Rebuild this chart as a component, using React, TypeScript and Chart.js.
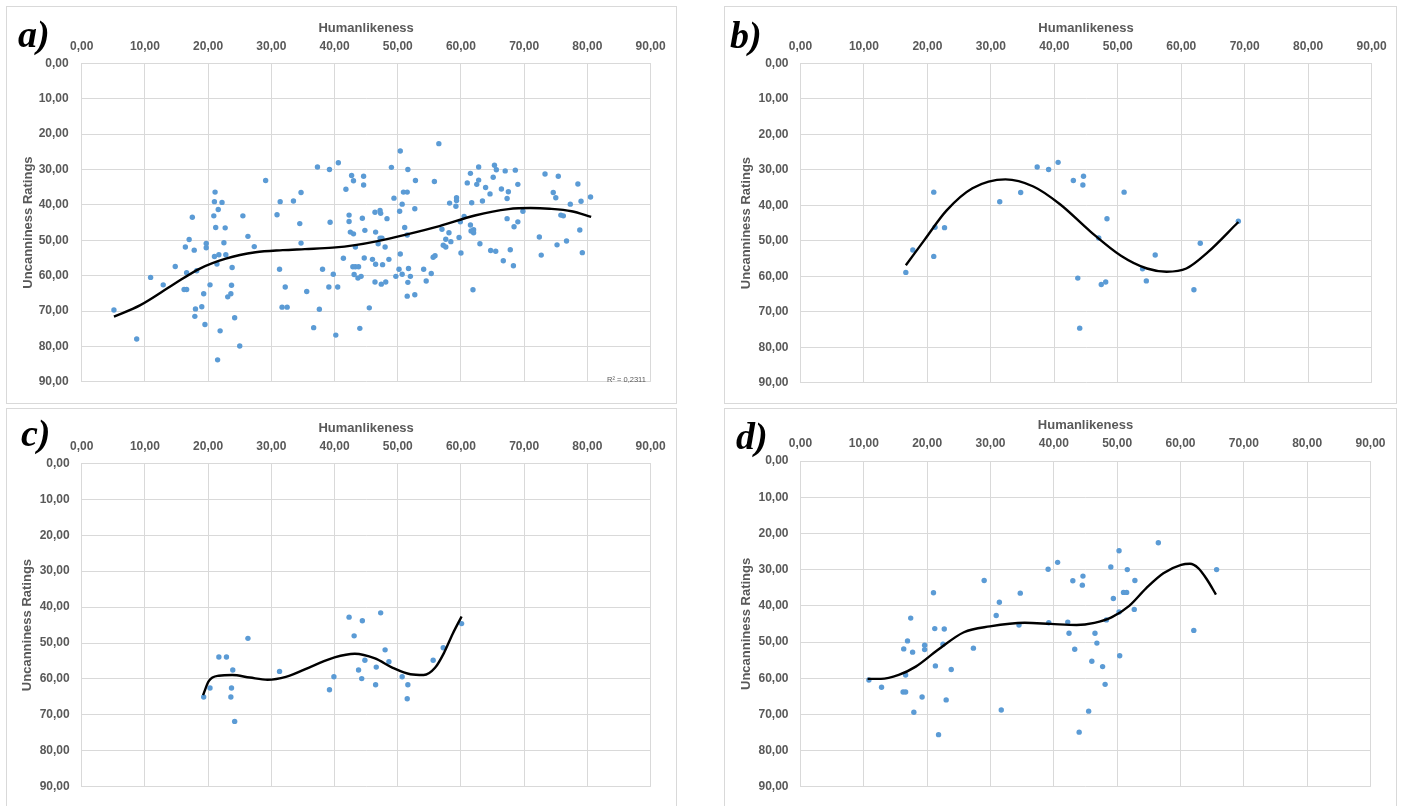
import React, { useEffect, useRef } from "react";
import { Chart, registerables } from "chart.js";

Chart.register(...registerables);

// ---------- axis ticks ----------
const tickValues = [0, 10, 20, 30, 40, 50, 60, 70, 80, 90];
const tickLabels = ["0,00", "10,00", "20,00", "30,00", "40,00", "50,00", "60,00", "70,00", "80,00", "90,00"];
const xAxisTitle = "Humanlikeness";
const yAxisTitle = "Uncanniness Ratings";
const rSquaredA = "R² = 0,2311";

// ---------- panel a ----------
const aHuman = [
  5.1, 8.7, 10.9, 12.9, 14.8, 17.5, 17.0, 16.4, 17.8, 16.6, 18.2, 16.2, 16.6, 19.3, 20.3, 18.0, 19.0, 17.9, 19.5, 19.7,
  19.7, 21.1, 21.0, 22.2, 21.6, 20.9, 21.2, 22.7, 22.5, 21.7, 21.0, 21.4, 22.8, 21.9, 21.5, 25.5, 26.3, 27.3, 23.8, 23.7,
  23.6, 23.1, 24.2, 25.0, 29.1, 31.4, 30.9, 33.5, 34.7, 34.5, 34.7, 31.3, 32.2, 31.7, 32.5, 35.6, 37.3, 39.2, 40.6, 39.3,
  38.1, 39.8, 39.1, 40.5, 37.6, 36.7, 40.2, 42.7, 43.0, 44.6, 44.6, 41.8, 42.3, 42.3, 42.5, 43.0, 44.4, 44.8, 43.3, 41.4,
  42.9, 43.3, 43.8, 43.1, 43.7, 44.2, 45.5, 44.0, 44.7, 46.4, 47.2, 47.3, 48.3, 46.5, 47.2, 47.5, 46.9, 48.0, 46.0, 46.5,
  47.6, 48.6, 46.4, 47.4, 48.1, 49.0, 50.4, 51.6, 52.8, 49.4, 50.9, 51.5, 50.7, 50.3, 52.7, 51.1, 51.5, 50.4, 50.2, 50.7,
  49.7, 51.7, 52.0, 51.6, 51.5, 52.7, 54.1, 55.3, 54.5, 55.6, 55.9, 56.5, 55.8, 57.0, 57.6, 57.2, 57.6, 58.2, 59.3, 59.3,
  59.2, 58.1, 58.4, 59.7, 60.5, 59.9, 60.0, 61.5, 61.0, 62.8, 62.8, 62.5, 61.7, 61.5, 62.0, 62.0, 61.6, 61.9, 63.0, 63.4,
  63.9, 64.6, 65.1, 65.3, 65.6, 67.0, 68.6, 66.4, 67.5, 67.3, 69.0, 69.8, 67.3, 69.0, 68.4, 64.7, 65.5, 67.8, 66.7, 68.3,
  72.4, 72.7, 73.3, 75.4, 78.5, 74.6, 75.0, 77.3, 79.0, 80.5, 75.8, 76.2, 78.8, 76.7, 75.2, 79.2,
];
const aUncanny = [
  69.7, 77.9, 60.5, 62.6, 57.4, 43.5, 49.8, 51.9, 52.8, 59.2, 58.6, 63.9, 63.9, 65.1, 62.6, 69.4, 68.8, 71.5, 73.8, 50.9,
  52.1, 36.4, 39.1, 39.3, 41.3, 43.1, 46.4, 46.5, 50.7, 54.1, 54.6, 56.7, 54.1, 75.6, 83.8, 43.1, 48.9, 51.8, 57.7, 62.7,
  65.1, 66.0, 71.9, 79.9, 33.1, 39.1, 42.8, 38.9, 36.5, 45.3, 50.8, 58.2, 63.2, 68.9, 68.9, 64.5, 29.3, 30.0, 28.1, 44.9,
  58.2, 59.6, 63.2, 63.2, 69.5, 74.7, 76.8, 31.7, 33.2, 31.9, 34.4, 35.6, 42.9, 44.7, 47.7, 48.2, 43.8, 47.2, 51.9, 55.1,
  57.5, 57.5, 57.5, 59.7, 60.7, 60.2, 69.1, 74.9, 55.0, 42.1, 41.6, 42.4, 43.9, 47.7, 49.4, 49.4, 51.0, 51.9, 55.4, 56.8,
  56.9, 55.4, 61.8, 62.4, 61.8, 29.4, 24.8, 30.0, 33.1, 38.1, 36.4, 36.4, 39.8, 41.8, 41.1, 46.4, 48.5, 53.9, 58.2, 59.6,
  60.2, 58.0, 60.2, 61.9, 65.8, 65.4, 58.2, 59.4, 61.5, 54.8, 54.4, 22.7, 33.4, 46.9, 49.7, 51.4, 51.9, 39.5, 38.0, 38.8,
  40.4, 47.9, 50.4, 49.2, 43.3, 44.8, 53.6, 31.1, 33.8, 29.3, 33.0, 34.2, 39.4, 45.7, 47.0, 47.9, 47.4, 64.0, 51.0, 38.9,
  35.1, 36.9, 32.2, 28.8, 30.1, 30.4, 30.2, 35.5, 36.3, 38.2, 34.2, 41.8, 43.9, 44.8, 46.2, 52.9, 53.1, 52.7, 55.8, 57.2,
  49.1, 54.2, 31.3, 31.9, 34.1, 36.5, 38.0, 39.8, 39.0, 37.8, 42.9, 43.1, 47.1, 50.2, 51.3, 53.5,
];
const aCurveHuman = [5.1, 9.2, 14.5, 18.7, 22.8, 27.5, 31.8, 35.3, 39.7, 43.5, 46.6, 51.3, 56.6, 62.2, 67.5, 71.0, 74.0, 77.5, 80.6];
const aCurveUncanny = [71.6, 68.4, 62.5, 58.0, 55.2, 53.4, 52.8, 52.5, 52.1, 51.3, 50.3, 48.4, 46.0, 43.0, 41.2, 40.9, 41.1, 41.8, 43.4];

// ---------- panel b ----------
const bHuman = [16.6, 17.7, 21.0, 21.2, 22.7, 21.0, 31.4, 34.7, 37.3, 39.1, 40.6, 43.0, 44.6, 44.5, 51.0, 48.3, 47.0, 43.7, 47.4, 48.1, 44.0, 53.9, 54.5, 55.9, 62.0, 63.0, 69.0];
const bUncanny = [58.9, 52.6, 36.3, 46.2, 46.3, 54.4, 39.0, 36.4, 29.2, 29.9, 27.9, 33.0, 31.8, 34.3, 36.3, 43.8, 49.2, 60.5, 62.3, 61.6, 74.6, 57.9, 61.3, 54.0, 63.8, 50.7, 44.5];
const bCurveHuman = [16.6, 19.6, 23.0, 27.1, 32.3, 36.7, 40.9, 45.7, 50.5, 54.6, 57.7, 60.8, 64.2, 69.0];
const bCurveUncanny = [56.9, 49.6, 41.5, 35.2, 32.7, 34.7, 39.7, 47.4, 54.2, 57.8, 58.7, 57.8, 53.2, 44.7];

// ---------- panel c ----------
const cHuman = [19.3, 20.3, 21.7, 22.9, 23.9, 23.7, 23.6, 24.2, 26.3, 31.3, 39.2, 39.9, 42.3, 43.1, 44.4, 47.3, 43.8, 44.8, 44.3, 46.6, 46.5, 48.0, 48.6, 50.7, 51.6, 51.5, 55.6, 57.2, 60.1];
const cUncanny = [65.0, 62.5, 53.9, 53.9, 57.5, 62.5, 65.0, 71.8, 48.7, 57.9, 63.0, 59.4, 42.8, 48.0, 43.8, 41.6, 57.5, 54.8, 59.9, 56.7, 61.6, 51.9, 55.2, 59.4, 61.6, 65.5, 54.8, 51.3, 44.6];
const cCurveHuman = [19.2, 20.1, 21.7, 23.8, 26.6, 29.4, 32.3, 36.5, 40.0, 43.2, 46.4, 49.2, 52.0, 54.1, 55.9, 57.3, 58.7, 60.1];
const cCurveUncanny = [64.5, 60.6, 59.1, 58.9, 59.6, 60.2, 59.4, 56.4, 54.0, 53.0, 54.3, 56.9, 58.7, 58.9, 56.9, 52.8, 47.4, 42.6];

// ---------- panel d ----------
const dHuman = [
  10.8, 12.8, 16.3, 16.9, 17.4, 17.7, 16.6, 16.2, 16.6, 17.9, 19.2, 19.6, 19.6, 21.0, 21.2, 22.7, 22.5, 21.3, 23.8, 23.0,
  21.8, 27.3, 29.0, 31.4, 30.9, 31.7, 34.7, 34.5, 39.1, 40.6, 39.2, 43.0, 44.6, 44.5, 42.2, 42.4, 43.3, 44.0, 45.5, 46.0,
  46.5, 46.8, 47.7, 48.1, 48.3, 49.0, 49.4, 50.3, 50.3, 50.4, 51.0, 51.5, 51.6, 52.8, 52.7, 56.5, 62.1, 65.7,
];
const dUncanny = [
  60.5, 62.5, 51.9, 49.7, 43.4, 52.8, 59.1, 63.8, 63.8, 69.4, 65.2, 50.9, 52.1, 36.4, 46.3, 46.4, 50.6, 56.6, 57.6, 66.0,
  75.6, 51.7, 33.0, 39.0, 42.7, 68.8, 36.5, 45.3, 29.9, 28.0, 44.7, 33.1, 31.8, 34.3, 44.5, 47.6, 52.0, 74.9, 69.1, 55.3,
  47.6, 50.3, 56.8, 61.7, 43.9, 29.3, 38.0, 24.8, 41.7, 53.8, 36.3, 36.3, 30.0, 33.0, 41.0, 22.6, 46.8, 30.0,
];
const dCurveHuman = [10.6, 12.7, 15.5, 18.2, 21.6, 25.8, 29.9, 35.4, 39.5, 43.6, 46.4, 49.1, 51.9, 54.6, 57.3, 60.1, 61.5, 62.8, 64.2, 65.6];
const dCurveUncanny = [60.2, 60.2, 59.1, 56.8, 52.3, 47.3, 45.7, 44.7, 45.0, 45.3, 44.7, 43.2, 40.0, 35.1, 31.0, 28.7, 28.4, 29.6, 32.8, 36.9];

// ---------- layout ----------
type PanelCfg = {
  letter: string;
  box: [number, number, number, number]; // left, top, width, height (outer)
  canvas: [number, number, number, number]; // left, top, width, height
  plot: [number, number, number, number]; // left, top, right, bottom (page)
  xTitlePad: number;
  yTitlePad: number;
  xTickPad: number;
  yTickPad: number;
  letterPos: [number, number];
  human: number[];
  uncanny: number[];
  curveH: number[];
  curveU: number[];
};

const panels: PanelCfg[] = [
  {
    letter: "a)", box: [6, 6, 671, 398], canvas: [7, 7, 668, 395], plot: [81.7, 63.3, 650.7, 394.4],
    xTitlePad: 13.2, yTitlePad: 13.2, xTickPad: 9.4, yTickPad: 13, letterPos: [18, 15],
    human: aHuman, uncanny: aUncanny, curveH: aCurveHuman, curveU: aCurveUncanny,
  },
  {
    letter: "b)", box: [724, 6, 673, 398], canvas: [725, 7, 671, 395], plot: [800.5, 63.3, 1372.8, 394.6],
    xTitlePad: 13.5, yTitlePad: 13.2, xTickPad: 9.4, yTickPad: 12, letterPos: [730, 16],
    human: bHuman, uncanny: bUncanny, curveH: bCurveHuman, curveU: bCurveUncanny,
  },
  {
    letter: "c)", box: [6, 408, 671, 400], canvas: [7, 409, 668, 397], plot: [81.7, 463.3, 650.7, 795.6],
    xTitlePad: 11.5, yTitlePad: 12.9, xTickPad: 9.4, yTickPad: 12, letterPos: [21, 414],
    human: cHuman, uncanny: cUncanny, curveH: cCurveHuman, curveU: cCurveUncanny,
  },
  {
    letter: "d)", box: [724, 408, 673, 400], canvas: [725, 409, 671, 397], plot: [800.5, 461, 1372.8, 792.3],
    xTitlePad: 8.9, yTitlePad: 13.2, xTickPad: 10.5, yTickPad: 12, letterPos: [736, 417],
    human: dHuman, uncanny: dUncanny, curveH: dCurveHuman, curveU: dCurveUncanny,
  },
];

const GRAY = "#595959";
const GRID = "#d9d9d9";
const FONT = "'Liberation Sans', Arial, sans-serif";

function Panel({ cfg }: { cfg: PanelCfg }) {
  const ref = useRef<HTMLCanvasElement>(null);
  useEffect(() => {
    const canvas = ref.current;
    if (!canvas) return;
    const [cx, cy, W, H] = cfg.canvas;
    const pl = cfg.plot[0] - cx;
    const pt = cfg.plot[1] - cy;
    const pr = cfg.plot[2] - cx;
    const pb = cfg.plot[3] - cy;
    const points = cfg.human.map((h, i) => ({ x: h, y: cfg.uncanny[i] }));
    const curve = cfg.curveH.map((h, i) => ({ x: h, y: cfg.curveU[i] }));
    const tickFont = { family: FONT, size: 12, weight: "bold" as const };
    const titleFont = { family: FONT, size: 13, weight: "bold" as const };
    const chart = new Chart(canvas, {
      type: "scatter",
      data: {
        datasets: [
          {
            data: curve,
            showLine: true,
            borderColor: "#000000",
            borderWidth: 2.4,
            pointRadius: 0,
            cubicInterpolationMode: "monotone",
            fill: false,
            order: 0,
          } as any,
          {
            data: points,
            backgroundColor: "#5B9BD5",
            borderWidth: 0,
            pointRadius: 2.7,
            order: 1,
          },
        ],
      },
      options: {
        responsive: false,
        animation: false,
        events: [],
        layout: { padding: { left: 0, top: 0, right: W - pr, bottom: H - pb } },
        plugins: { legend: { display: false }, tooltip: { enabled: false } },
        scales: {
          x: {
            type: "linear",
            position: "top",
            min: 0,
            max: 90,
            afterBuildTicks: (s: any) => {
              s.ticks = tickValues.map((v) => ({ value: v }));
            },
            ticks: {
              autoSkip: false,
              maxRotation: 0,
              padding: cfg.xTickPad,
              color: GRAY,
              font: tickFont,
              callback: (_v: any, i: number) => tickLabels[i],
            },
            grid: { color: GRID, lineWidth: 1, drawTicks: false },
            border: { color: GRID },
            title: {
              display: true,
              text: xAxisTitle,
              color: GRAY,
              font: titleFont,
              padding: { top: cfg.xTitlePad, bottom: 0 },
            },
            afterFit: (s: any) => {
              s.height = pt;
            },
          },
          y: {
            type: "linear",
            reverse: true,
            min: 0,
            max: 90,
            afterBuildTicks: (s: any) => {
              s.ticks = tickValues.map((v) => ({ value: v }));
            },
            ticks: {
              autoSkip: false,
              padding: cfg.yTickPad,
              color: GRAY,
              font: tickFont,
              callback: (_v: any, i: number) => tickLabels[i],
            },
            grid: { color: GRID, lineWidth: 1, drawTicks: false },
            border: { color: GRID },
            title: {
              display: true,
              text: yAxisTitle,
              color: GRAY,
              font: titleFont,
              padding: { top: cfg.yTitlePad, bottom: 0 },
            },
            afterFit: (s: any) => {
              s.width = pl;
            },
          },
        },
      },
    });
    return () => chart.destroy();
  }, [cfg]);

  const [bx, by, bw, bh] = cfg.box;
  const [cx, cy, W, H] = cfg.canvas;
  return (
    <>
      <div
        style={{
          position: "absolute",
          left: bx,
          top: by,
          width: bw - 2,
          height: bh - 2,
          border: `1px solid ${GRID}`,
          background: "#ffffff",
        }}
      />
      <canvas
        ref={ref}
        width={W}
        height={H}
        style={{ position: "absolute", left: cx, top: cy, width: W, height: H, display: "block" }}
      />
      <div
        style={{
          position: "absolute",
          left: cfg.letterPos[0],
          top: cfg.letterPos[1],
          fontFamily: "'Liberation Serif', 'Times New Roman', serif",
          fontWeight: "bold",
          fontStyle: "italic",
          fontSize: 38,
          lineHeight: "38px",
          color: "#000000",
          whiteSpace: "nowrap",
        }}
      >
        {cfg.letter}
      </div>
    </>
  );
}

export default function App() {
  return (
    <div
      style={{
        position: "absolute",
        left: 0,
        top: 0,
        width: 1401,
        height: 806,
        background: "#ffffff",
        overflow: "hidden",
      }}
    >
      {panels.map((p) => (
        <Panel key={p.letter} cfg={p} />
      ))}
      <div
        style={{
          position: "absolute",
          left: 607,
          top: 375,
          fontFamily: FONT,
          fontSize: 7.5,
          lineHeight: "10px",
          color: GRAY,
          whiteSpace: "nowrap",
        }}
      >
        {rSquaredA}
      </div>
    </div>
  );
}
